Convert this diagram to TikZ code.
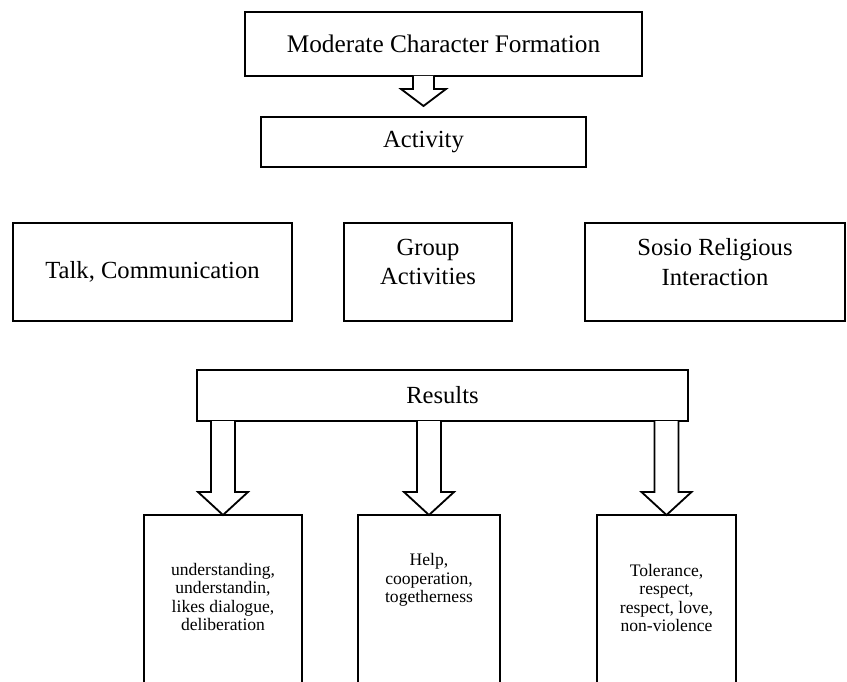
\documentclass[tikz,border=0pt]{standalone}
\usepackage{fontspec}
\setmainfont{Liberation Serif}
\usetikzlibrary{calc}

\newcommand{\pxl}{0.025cm}
\newcommand{\hollowarrow}[5]{%
	\draw [blockarrow] ($(#1)+(-#3,0)$) -- ($(#2)+(-#3,-#5)$) -- ($(#2)+(-#4,-#5)$) -- (#2)
		-- ($(#2)+(#4,-#5)$) -- ($(#2)+(#3,-#5)$) -- ($(#1)+(#3,0)$);
}

\begin{document}
\begin{tikzpicture}[x=0.025cm, y=-0.025cm,
		box/.style={draw, line width=1.3pt, inner sep=0pt, outer sep=0pt},
		blockarrow/.style={draw, fill=white, line width=1.3pt, line join=miter},
		bigtext/.style={font=\fontsize{18}{21}\selectfont},
		midtext/.style={font=\fontsize{17.5}{21}\selectfont, align=center},
		smalltext/.style={font=\fontsize{12.5}{13.2}\selectfont, align=center}]
	\clip (0,0) rectangle (847,682);

	\node [box, bigtext, minimum width=397*\pxl, minimum height=64*\pxl] (formation) at (443.5,44) {Moderate Character Formation};
	\node [box, midtext, minimum width=325*\pxl, minimum height=50*\pxl] (activity) at (423.5,142) {Activity};

	\node [box, midtext, minimum width=279*\pxl, minimum height=98*\pxl] (talk) at (152.5,272) {Talk, Communication};
	\node [box, minimum width=168*\pxl, minimum height=98*\pxl,
		label={[name=grouptext, midtext, yshift=10*\pxl]center:Group\\Activities}] (group) at (428,272) {};
	\node [box, minimum width=260*\pxl, minimum height=98*\pxl,
		label={[name=sosiotext, midtext, yshift=10*\pxl]center:Sosio Religious\\Interaction}] (sosio) at (715,272) {};

	\node [box, midtext, minimum width=491*\pxl, minimum height=51*\pxl] (results) at (442.5,395.5) {Results};

	\node [box, minimum width=158*\pxl, minimum height=185*\pxl,
		label={[name=res1text, smalltext, yshift=10.5*\pxl]center:understanding,\\understandin,\\likes dialogue,\\deliberation}] (res1) at (223,607.5) {};
	\node [box, minimum width=142*\pxl, minimum height=185*\pxl,
		label={[name=res2text, smalltext, yshift=27.5*\pxl]center:Help,\\cooperation,\\togetherness}] (res2) at (429,607.5) {};
	\node [box, minimum width=139*\pxl, minimum height=185*\pxl,
		label={[name=res3text, smalltext, yshift=9.5*\pxl]center:Tolerance,\\respect,\\respect, love,\\non-violence}] (res3) at (666.5,607.5) {};

	\coordinate (a0) at (formation.south -| activity.north);
	\coordinate (t0) at ($(activity.north)+(0,-11)$);
	\coordinate (a1) at (results.south -| res1.north);
	\coordinate (a2) at (results.south -| res2.north);
	\coordinate (a3) at (results.south -| res3.north);

	\hollowarrow{a0}{t0}{10.5}{22.5}{17}
	\hollowarrow{a1}{res1.north}{12}{25}{23}
	\hollowarrow{a2}{res2.north}{12}{25}{23}
	\hollowarrow{a3}{res3.north}{12}{25}{23}
\end{tikzpicture}
\end{document}
